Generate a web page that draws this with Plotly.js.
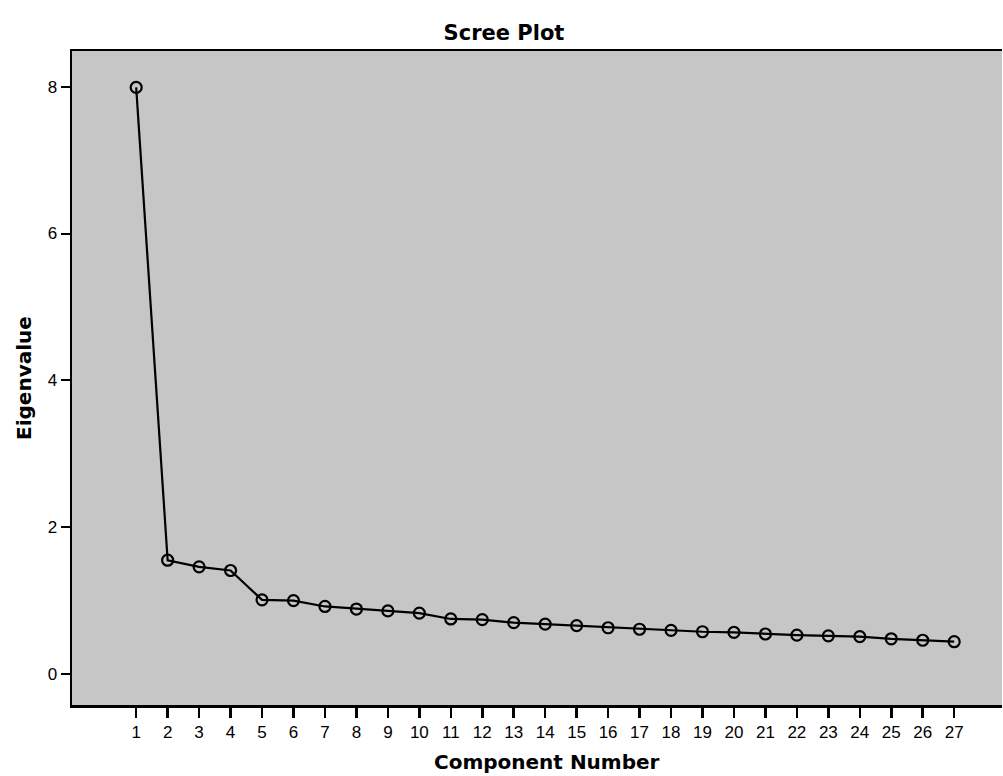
<!DOCTYPE html>
<html>
<head>
<meta charset="utf-8">
<script src="https://cdn.plot.ly/plotly-3.0.1.min.js"></script>
<style>html,body{margin:0;padding:0;background:#fff;}#chart{width:1003px;height:776px;}</style>
</head>
<body>
<div id="chart"></div>
<script>
var componentNumber = [1,2,3,4,5,6,7,8,9,10,11,12,13,14,15,16,17,18,19,20,21,22,23,24,25,26,27];
var eigenvalue = [7.99,1.55,1.46,1.41,1.01,1.00,0.92,0.885,0.86,0.83,0.75,0.74,0.70,0.68,0.66,0.63,0.61,0.595,0.576,0.568,0.545,0.53,0.52,0.51,0.48,0.46,0.44];
var yTicks = [0,2,4,6,8];

var titleFont = 'DejaVu Sans, Arial, sans-serif';

var trace = {
  x: componentNumber,
  y: eigenvalue,
  type: 'scatter',
  mode: 'lines+markers',
  line: {color: '#000', width: 2.2},
  marker: {symbol: 'circle-open', size: 11, color: '#000', line: {width: 2.2, color: '#000'}},
  cliponaxis: false,
  hoverinfo: 'x+y'
};

var layout = {
  width: 1003, height: 776,
  margin: {l: 72, r: 1, t: 51, b: 71},
  paper_bgcolor: '#ffffff',
  plot_bgcolor: '#c6c6c6',
  showlegend: false,
  font: {family: 'Liberation Sans, Arial, sans-serif', color: '#000', size: 17},
  title: {text: '<b>Scree Plot</b>', x: 0.5025, xanchor: 'center', y: 0.958, yanchor: 'middle', font: {family: titleFont, size: 21, color: '#000'}},
  xaxis: {
    range: [-1.04, 28.52],
    tickmode: 'array', tickvals: componentNumber, ticktext: componentNumber.map(String),
    ticks: 'outside', ticklen: 10, tickwidth: 2.5, tickcolor: '#000',
    showgrid: false, zeroline: false,
    showline: true, linecolor: '#000', linewidth: 2.5, mirror: true,
    tickfont: {size: 17, color: '#000'}
  },
  yaxis: {
    range: [-0.422, 8.486],
    tickmode: 'array', tickvals: yTicks, ticktext: yTicks.map(String),
    ticks: 'outside', ticklen: 9, tickwidth: 2, tickcolor: '#000',
    showgrid: false, zeroline: false,
    showline: true, linecolor: '#000', linewidth: 2.5, mirror: false,
    tickfont: {size: 17, color: '#000'}
  },
  annotations: [
    {text: '<b>Component Number</b>', xref: 'paper', yref: 'paper', x: 0.511, y: 0, xanchor: 'center', yanchor: 'middle', yshift: -57, showarrow: false, font: {family: titleFont, size: 20, color: '#000'}},
    {text: '<b>Eigenvalue</b>', xref: 'paper', yref: 'paper', x: 0, y: 0.5, xanchor: 'center', yanchor: 'middle', xshift: -48, textangle: -90, showarrow: false, font: {family: titleFont, size: 20, color: '#000'}}
  ]
};

Plotly.newPlot('chart', [trace], layout, {displayModeBar: false, staticPlot: true});
</script>
</body>
</html>
